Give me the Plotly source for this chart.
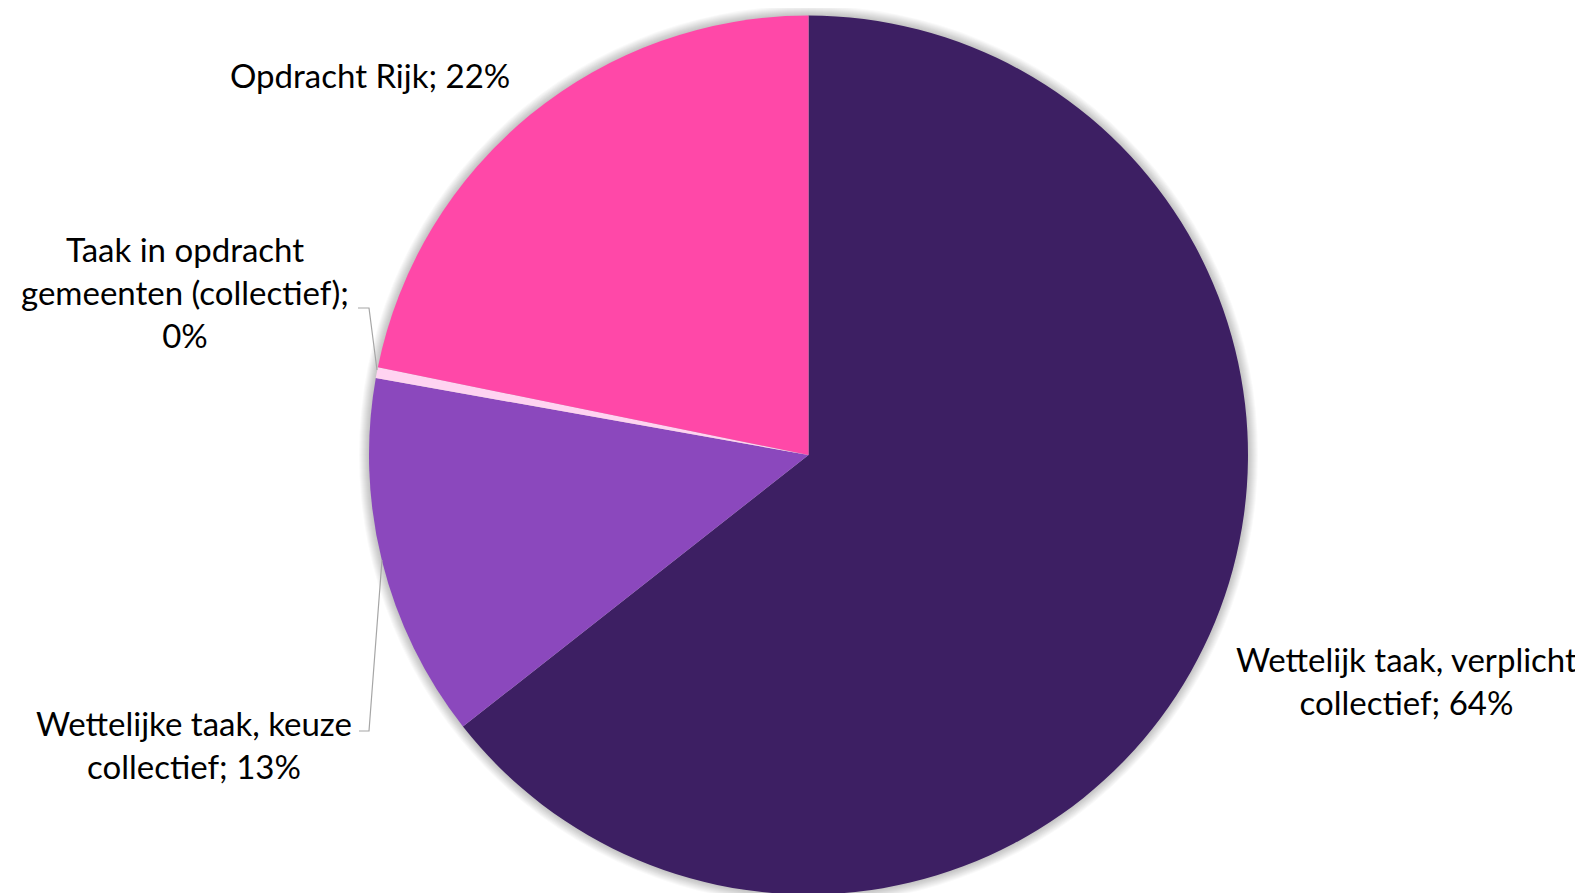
import plotly.graph_objects as go

# ---- data ----
categories = [
    "Wettelijk taak, verplicht collectief",
    "Wettelijke taak, keuze collectief",
    "Taak in opdracht gemeenten (collectief)",
    "Opdracht Rijk",
]
label_text = [
    "Wettelijk taak, verplicht<br>collectief",
    "Wettelijke taak, keuze<br>collectief",
    "Taak in opdracht<br>gemeenten (collectief);<br>",
    "Opdracht Rijk",
]
values = [64.4, 13.4, 0.4, 21.8]
colors = ["#3D1F63", "#8B48BD", "#FFD3F1", "#FF48A8"]

W, H = 1583, 893
cx, cy, R = 800.5, 447.0, 439.5  # pie centre/radius in pixels (layout)

fig = go.Figure()
fig.add_trace(go.Pie(
    labels=categories,
    values=values,
    sort=False,
    direction="clockwise",
    rotation=0,
    marker=dict(colors=colors, line=dict(width=0)),
    textinfo="none",
    showlegend=False,
    domain=dict(x=[(cx - R) / W, (cx + R) / W],
                y=[(H - cy - R) / H, (H - cy + R) / H]),
))

# soft shadow around the pie
shapes = []
for i in range(10, 0, -1):
    r = R + i
    shapes.append(dict(
        type="circle", xref="paper", yref="paper", layer="below",
        x0=(cx - r) / W, x1=(cx + r) / W,
        y0=(H - cy - r) / H, y1=(H - cy + r) / H,
        fillcolor="rgba(0,0,0,0.025)", line=dict(width=0),
    ))

# leader lines (pixel coords -> paper)
def px(x):
    return x / W

def py(y):
    return 1 - y / H

leaders = [
    [(350, 300), (361, 300), (369, 362)],
    [(351, 723), (361, 723), (374, 552)],
]
for pts in leaders:
    path = "M " + " L ".join(f"{px(x)},{py(y)}" for x, y in pts)
    shapes.append(dict(type="path", xref="paper", yref="paper", path=path,
                       line=dict(color="#A6A6A6", width=1.2)))

total = sum(values)
pcts = [round(v / total * 100) for v in values]

def full_text(i):
    t = label_text[i]
    if t.endswith("<br>"):
        return f"{t}{pcts[i]}%"
    return f"{t}; {pcts[i]}%"

label_pos = [(1398, 672), (186, 736), (177, 284), (362, 67)]
annotations = []
for i, (x, y) in enumerate(label_pos):
    annotations.append(dict(
        x=px(x), y=py(y), xref="paper", yref="paper",
        text=full_text(i), showarrow=False,
        xanchor="center", yanchor="middle", align="center",
        font=dict(family="Lato", size=33, color="#000000"),
    ))

fig.update_layout(
    width=W, height=H,
    margin=dict(l=0, r=0, t=0, b=0),
    paper_bgcolor="white", plot_bgcolor="white",
    shapes=shapes, annotations=annotations,
)

fig.write_html("out.html")
